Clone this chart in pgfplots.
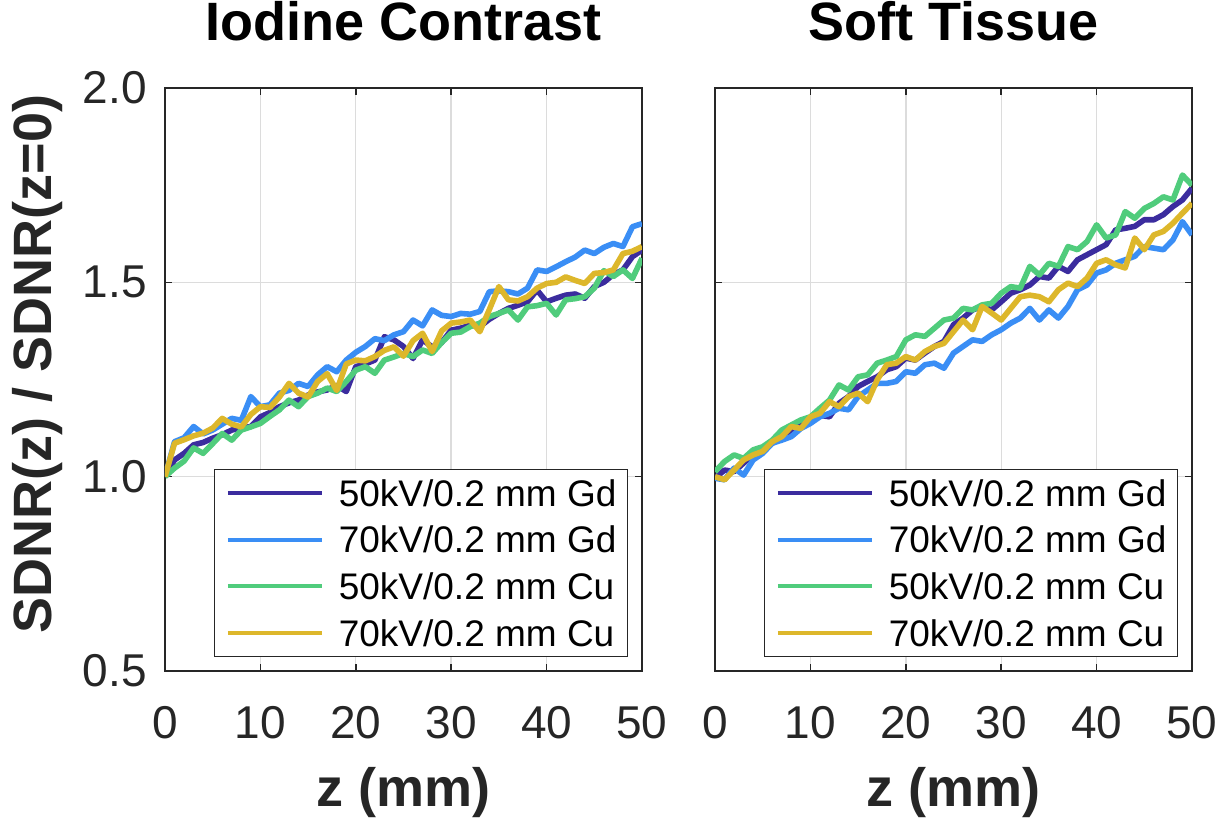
\documentclass[border=0pt]{standalone}
\usepackage{fontspec}
\setmainfont{Liberation Sans}
\usepackage{pgfplots}
\usepackage{pgfplotstable}
\pgfplotsset{compat=1.18}

\definecolor{cA}{HTML}{3B2C9E}
\definecolor{cB}{HTML}{3A8EF5}
\definecolor{cC}{HTML}{50CC7C}
\definecolor{cD}{HTML}{DDB72B}
\definecolor{gridc}{HTML}{DCDCDC}
\definecolor{axc}{HTML}{262626}

% Iodine contrast panel
\pgfplotstableread{
z gA gB cA cB
0 1.000 1.000 1.000 1.000
1 1.043 1.090 1.022 1.086
2 1.060 1.100 1.040 1.095
3 1.082 1.129 1.074 1.105
4 1.088 1.110 1.060 1.112
5 1.099 1.120 1.085 1.125
6 1.108 1.135 1.111 1.150
7 1.120 1.150 1.094 1.135
8 1.125 1.145 1.120 1.128
9 1.129 1.206 1.128 1.160
10 1.154 1.180 1.137 1.180
11 1.165 1.185 1.155 1.178
12 1.180 1.215 1.172 1.205
13 1.190 1.222 1.197 1.240
14 1.197 1.240 1.180 1.215
15 1.210 1.232 1.206 1.205
16 1.218 1.262 1.215 1.245
17 1.223 1.283 1.228 1.265
18 1.235 1.270 1.219 1.222
19 1.219 1.300 1.245 1.290
20 1.283 1.320 1.274 1.300
21 1.290 1.335 1.283 1.298
22 1.300 1.355 1.266 1.309
23 1.360 1.350 1.300 1.325
24 1.352 1.365 1.308 1.334
25 1.335 1.373 1.317 1.310
26 1.304 1.403 1.309 1.350
27 1.352 1.388 1.326 1.369
28 1.334 1.429 1.317 1.322
29 1.345 1.415 1.345 1.375
30 1.377 1.412 1.369 1.395
31 1.382 1.420 1.372 1.398
32 1.390 1.418 1.386 1.403
33 1.386 1.425 1.395 1.373
34 1.405 1.476 1.412 1.430
35 1.420 1.478 1.420 1.489
36 1.433 1.476 1.429 1.455
37 1.441 1.470 1.403 1.452
38 1.450 1.485 1.437 1.463
39 1.480 1.532 1.440 1.485
40 1.450 1.528 1.446 1.497
41 1.459 1.540 1.416 1.500
42 1.467 1.553 1.455 1.514
43 1.470 1.565 1.458 1.505
44 1.459 1.583 1.463 1.497
45 1.489 1.574 1.485 1.523
46 1.500 1.590 1.530 1.525
47 1.520 1.600 1.515 1.532
48 1.532 1.592 1.532 1.574
49 1.566 1.643 1.510 1.580
50 1.583 1.651 1.562 1.592
}\iodine

% Soft tissue panel
\pgfplotstableread{
z gA gB cA cB
0 0.996 0.996 1.013 1.000
1 1.017 0.992 1.039 0.992
2 1.013 1.022 1.056 1.017
3 1.035 1.004 1.047 1.043
4 1.056 1.043 1.069 1.056
5 1.069 1.060 1.077 1.065
6 1.086 1.086 1.094 1.090
7 1.103 1.094 1.120 1.103
8 1.116 1.103 1.133 1.129
9 1.137 1.124 1.146 1.124
10 1.150 1.137 1.154 1.154
11 1.158 1.154 1.176 1.163
12 1.154 1.163 1.197 1.193
13 1.189 1.176 1.236 1.180
14 1.206 1.172 1.223 1.206
15 1.232 1.206 1.257 1.215
16 1.245 1.223 1.262 1.193
17 1.257 1.240 1.292 1.249
18 1.275 1.240 1.300 1.288
19 1.283 1.245 1.309 1.292
20 1.305 1.270 1.352 1.309
21 1.300 1.266 1.365 1.300
22 1.318 1.288 1.361 1.322
23 1.335 1.292 1.382 1.335
24 1.348 1.279 1.403 1.343
25 1.391 1.318 1.408 1.373
26 1.408 1.335 1.433 1.403
27 1.429 1.352 1.429 1.378
28 1.438 1.348 1.442 1.438
29 1.429 1.365 1.446 1.421
30 1.450 1.378 1.472 1.403
31 1.472 1.395 1.489 1.433
32 1.481 1.408 1.485 1.463
33 1.493 1.433 1.541 1.467
34 1.515 1.403 1.519 1.463
35 1.511 1.429 1.549 1.450
36 1.541 1.408 1.541 1.481
37 1.528 1.438 1.592 1.498
38 1.558 1.481 1.584 1.489
39 1.571 1.493 1.605 1.511
40 1.584 1.524 1.648 1.549
41 1.597 1.532 1.614 1.558
42 1.635 1.549 1.622 1.545
43 1.639 1.558 1.682 1.537
44 1.644 1.567 1.665 1.614
45 1.661 1.592 1.690 1.584
46 1.661 1.588 1.703 1.622
47 1.674 1.584 1.720 1.631
48 1.695 1.609 1.712 1.652
49 1.712 1.656 1.776 1.678
50 1.742 1.622 1.750 1.703
}\tissue

\pgfplotsset{
  panel/.style={
    scale only axis, width=238.5pt, height=291.5pt,
    xmin=0, xmax=50, ymin=0.5, ymax=2,
    xtick={0,10,20,30,40,50}, ytick={0.5,1,1.5,2},
    tick align=inside, tick pos=both, major tick length=3.5pt,
    xmajorgrids, ymajorgrids,
    major grid style={gridc, line width=0.7pt},
    axis line style={axc, line width=1.1pt},
    every tick/.style={axc, line width=0.8pt},
    tick label style={font=\fontsize{23}{23}\selectfont, text=black!85},
    /pgf/number format/assume math mode=true,
    yticklabel style={/pgf/number format/fixed, /pgf/number format/fixed zerofill, /pgf/number format/precision=1, anchor=east, inner sep=0pt, xshift=-9pt},
    xticklabel style={anchor=base, inner sep=0pt, yshift=-33.5pt},
    title style={font=\bfseries\fontsize{27}{27}\selectfont, at={(axis description cs:0.5,1)}, anchor=base, yshift=17.5pt, inner sep=0pt},
    xlabel style={font=\bfseries\fontsize{27}{27}\selectfont, text=black!85, at={(axis description cs:0.5,0)}, anchor=base, yshift=-67.5pt, inner sep=0pt},
    ylabel style={font=\bfseries\fontsize{27}{27}\selectfont, text=black!85, at={(axis description cs:-0.268,0.527)}, anchor=center, inner sep=0pt},
    every axis plot/.append style={line width=2.8pt, line join=round},
    legend cell align=left,
    legend image code/.code={\draw[##1, line width=2pt] (0pt,0pt) -- (47pt,0pt);},
    legend style={at={(axis description cs:0.9707,0.024)}, anchor=south east,
      draw=axc, line width=0.6pt, fill=white,
      inner xsep=5.5pt, inner ysep=4.4pt, row sep=8.5pt, column sep=7.5pt,
      font=\fontsize{18.5}{18.5}\selectfont,
      nodes={inner sep=0pt, text height=14pt, text depth=0.8pt}},
  }
}

\begin{document}
\begin{tikzpicture}
\path[use as bounding box] (-82.5pt,-74pt) rectangle (530pt,335.5pt);
\begin{axis}[panel, at={(0pt,0pt)}, anchor=south west,
  title={Iodine Contrast}, xlabel={z (mm)}, ylabel={SDNR(z) / SDNR(z=0)}]
\addplot[cA] table[x=z, y=gA] {\iodine};
\addplot[cB] table[x=z, y=gB] {\iodine};
\addplot[cC] table[x=z, y=cA] {\iodine};
\addplot[cD] table[x=z, y=cB] {\iodine};
\legend{50kV/0.2 mm Gd, 70kV/0.2 mm Gd, 50kV/0.2 mm Cu, 70kV/0.2 mm Cu}
\end{axis}
\begin{axis}[panel, at={(275pt,0pt)}, anchor=south west,
  title={Soft Tissue}, xlabel={z (mm)}, yticklabels={}]
\addplot[cA] table[x=z, y=gA] {\tissue};
\addplot[cB] table[x=z, y=gB] {\tissue};
\addplot[cC] table[x=z, y=cA] {\tissue};
\addplot[cD] table[x=z, y=cB] {\tissue};
\legend{50kV/0.2 mm Gd, 70kV/0.2 mm Gd, 50kV/0.2 mm Cu, 70kV/0.2 mm Cu}
\end{axis}
\end{tikzpicture}
\end{document}
